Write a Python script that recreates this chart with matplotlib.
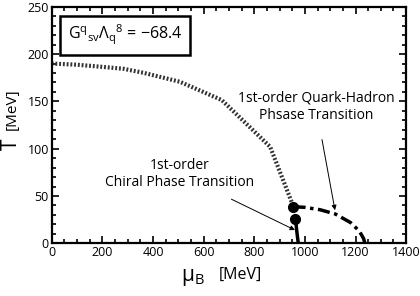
import numpy as np
import matplotlib.pyplot as plt
from matplotlib.ticker import MultipleLocator

plt.rcParams['font.family'] = ['Open Sans', 'DejaVu Sans']
plt.rcParams['mathtext.fontset'] = 'custom'
plt.rcParams['mathtext.rm'] = 'Open Sans'
plt.rcParams['mathtext.it'] = 'Open Sans'

# crossover line (dotted)
mu_cross = [0, 100, 200, 283, 362, 507, 672, 863, 955]
T_cross = [190, 188.8, 186.5, 184.5, 180.3, 170.7, 151.4, 102, 38.7]
# 1st-order chiral line (solid)
mu_chiral = [963, 968, 974]
T_chiral = [26, 13, 0]
# 1st-order quark-hadron line (dash-dot)
mu_qh = [955, 1000, 1060, 1120, 1180, 1215, 1232, 1237]
T_qh = [38.7, 38, 35.5, 31, 22, 13, 5, 0]
# end points
mu_pts = [955, 963]
T_pts = [38.7, 26]

fig = plt.figure(figsize=(4.2, 2.96), dpi=100)
ax = fig.add_axes([0.123, 0.178, 0.844, 0.799])

ax.plot(mu_cross, T_cross, color='#333333', lw=3, ls=(0, (0.45, 0.45)), solid_capstyle='butt')
ax.plot(mu_chiral, T_chiral, color='black', lw=2.5)
ax.plot(mu_qh, T_qh, color='black', lw=2.5, ls=(0, (3.5, 1.3, 1, 1.3)))
ax.plot(mu_pts, T_pts, 'o', color='black', ms=7, zorder=5)

ax.set_xlim(0, 1400)
ax.set_ylim(0, 250)
ax.xaxis.set_major_locator(MultipleLocator(200))
ax.xaxis.set_minor_locator(MultipleLocator(50))
ax.yaxis.set_major_locator(MultipleLocator(50))
ax.yaxis.set_minor_locator(MultipleLocator(10))
ax.tick_params(which='both', direction='in', top=True, right=True, labelsize=9, width=1.2, pad=2)
ax.tick_params(which='major', length=5)
ax.tick_params(which='minor', length=3)
for s in ax.spines.values():
    s.set_linewidth(1.6)

# axis labels
ax.text(-0.115, 0.42, 'T', transform=ax.transAxes, rotation=90, fontsize=15, ha='center', va='center')
ax.text(-0.112, 0.565, '[MeV]', transform=ax.transAxes, rotation=90, fontsize=11, ha='center', va='center')
ax.text(0.397, -0.145, r'$\mathregular{\mu_B}$', transform=ax.transAxes, fontsize=15, ha='center', va='center')
ax.text(0.532, -0.135, '[MeV]', transform=ax.transAxes, fontsize=11.5, ha='center', va='center')

ax.text(0.207, 0.88, r'$\mathregular{G^q{}_{sv}\Lambda_q{}^8}$ = ' + '\u221268.4', transform=ax.transAxes,
        fontsize=11.5, ha='center', va='center',
        bbox=dict(boxstyle='square,pad=0.45', fc='white', ec='black', lw=1.8))

ax.annotate('1st-order Quark-Hadron\nPhsase Transition', xy=(1119, 35), xytext=(1044, 144),
            ha='center', va='center', fontsize=10, multialignment='center',
            arrowprops=dict(arrowstyle='-|>', lw=0.7, color='black', mutation_scale=7, shrinkA=10, shrinkB=0))
ax.annotate('1st-order\nChiral Phase Transition', xy=(961, 14), xytext=(507, 73),
            ha='center', va='center', fontsize=10, multialignment='center',
            arrowprops=dict(arrowstyle='-|>', lw=0.7, color='black', mutation_scale=7, shrinkA=10, shrinkB=0))

fig.savefig('out.png', dpi=100)
